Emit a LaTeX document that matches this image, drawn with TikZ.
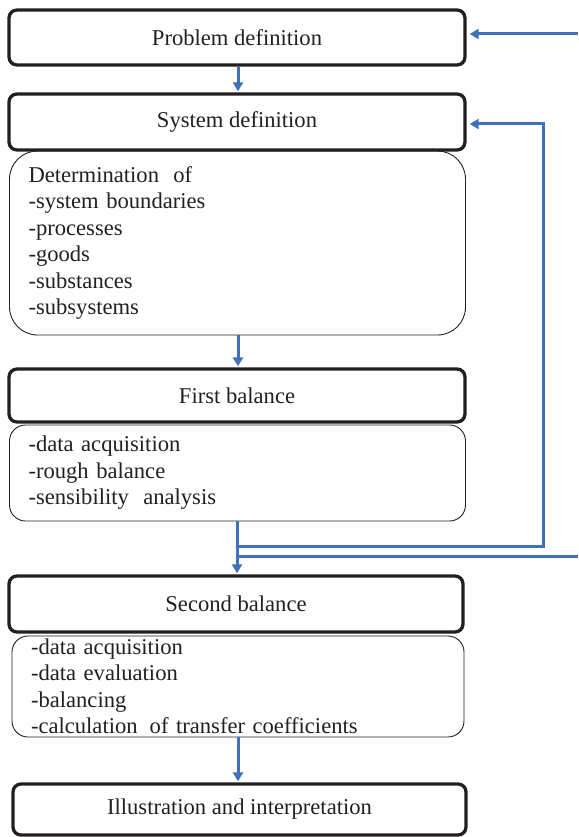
\documentclass[tikz,border=0pt]{standalone}
\usepackage{fontspec}
\setmainfont{Liberation Serif}
\usetikzlibrary{arrows.meta}
\definecolor{flowblue}{RGB}{64,112,186}
\definecolor{ink}{RGB}{35,31,32}
\begin{document}
\begin{tikzpicture}[x=1pt,y=-1pt,
  every node/.style={font=\fontsize{22.6}{26.5}\selectfont, text=ink},
  header/.style={draw=ink, line width=3.3pt, rounded corners=8pt,
    minimum width=456pt, inner sep=0pt},
  detail/.style={draw=ink, line width=0.9pt, rounded corners=16pt,
    text width=418pt, inner xsep=19pt, inner ysep=0pt, align=left},
  flow/.style={draw=flowblue, line width=3pt,
    -{Triangle[length=9pt,width=10pt]}},
  flowline/.style={draw=flowblue, line width=3pt}]
\useasboundingbox (0,0) rectangle (578,837);

% stage headers and their detail boxes
\node[header, minimum height=55pt] (prob) at (237,37.5) {Problem definition};
\node[header, minimum height=56pt] (sysdef) at (237,122) {System definition};
\node[detail, rounded corners=28pt, minimum height=184pt] (det) at (237.5,243)
  {Determination\hspace{0.3em} of\\-system boundaries\\-processes\\-goods\\-substances\\-subsystems};
\node[header, minimum height=53pt] (first) at (237,395.5) {First balance};
\node[detail, minimum height=96pt] (firstd) at (237.5,473)
  {-data acquisition\\-rough balance\\-sensibility\hspace{0.3em} analysis};
\node[header, minimum height=56pt, minimum width=454pt] (second) at (236,604) {Second balance};
\node[detail, text width=414pt, minimum height=101pt] (secondd) at (238,686.5)
  {-data acquisition\\-data evaluation\\-balancing\\-calculation\hspace{0.2em} of transfer coefficients};
\node[header, minimum height=51pt, minimum width=453pt] (illu) at (239.5,809.5) {Illustration and interpretation};

% forward flow
\draw[flow, shorten >=1pt] (prob.south -| 238,0) -- (sysdef.north -| 238,0);
\draw[flow, shorten >=1pt] (det.south -| 238,0) -- (first.north -| 238,0);
\draw[flow, shorten >=1pt] (firstd.south -| 237,0) -- (second.north -| 237,0);
\draw[flow, shorten >=1pt] (secondd.south -| 238,0) -- (illu.north -| 238,0);

% feedback loops
\coordinate (fbA) at (237,546);
\coordinate (fbB) at (237,556);
\coordinate (riser) at (543,546);
\coordinate (edgeB) at (578,556);
\coordinate (edgeT) at (578,34);
\draw[flow, shorten >=3pt] (fbA) -- (riser) |- ([yshift=-2pt]sysdef.east);
\draw[flowline] (fbB) -- (edgeB);
\draw[flow, shorten >=3pt] (edgeT) -- ([yshift=3.5pt]prob.east);
\end{tikzpicture}
\end{document}
